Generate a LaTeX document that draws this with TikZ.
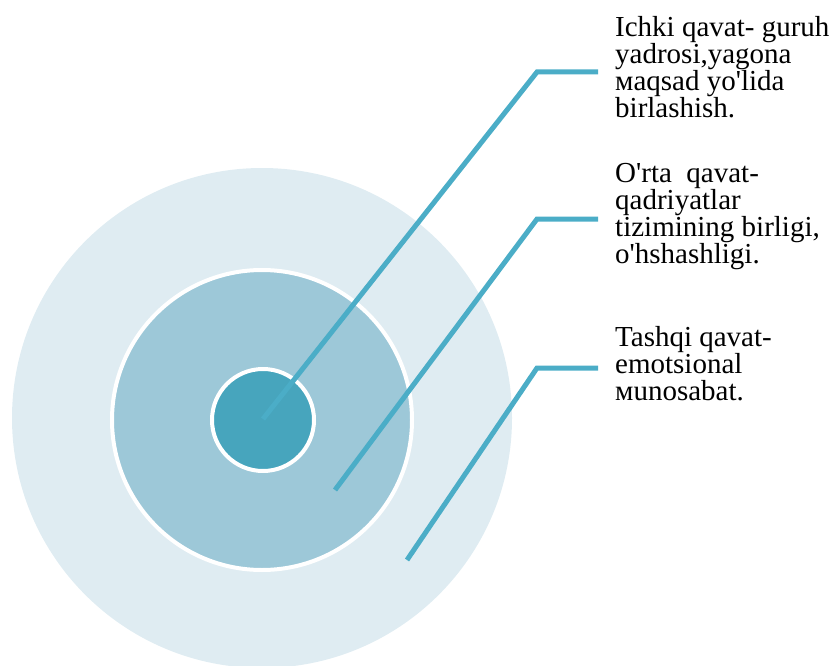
\documentclass[tikz,border=0pt]{standalone}
\usepackage{fontspec}
\setmainfont{Liberation Serif}[Ligatures=TeXOff]
\definecolor{outerc}{HTML}{DFECF2}
\definecolor{midc}{HTML}{9DC8D8}
\definecolor{innerc}{HTML}{47A5BD}
\definecolor{linec}{HTML}{4BADC7}
\tikzset{
  ring/.style={circle, inner sep=0pt, draw=white, line width=4pt},
  leader/.style={draw=linec, line width=5pt, line join=miter},
  label/.style={anchor=north west, inner sep=0pt, align=left,
    font=\fontsize{29}{27}\selectfont, text=black}
}
\begin{document}
\begin{tikzpicture}[x=1pt,y=-1pt]
\useasboundingbox (0,0) rectangle (835,666);
\node[circle, inner sep=0pt, fill=outerc, minimum size=500pt] (outer) at (262,418) {};
\node[ring, fill=midc, minimum size=300pt] (mid) at (262,420) {};
\node[ring, fill=innerc, minimum size=102pt] (inner) at (263,420) {};
\coordinate (s1) at (263,419);
\coordinate (b1) at (537,72);
\coordinate (e1) at (598,72);
\coordinate (s2) at (335,490);
\coordinate (b2) at (537,219);
\coordinate (e2) at (598,219);
\coordinate (s3) at (407,560);
\coordinate (b3) at (537,368);
\coordinate (e3) at (598,368);
\draw[leader] (s1) -- (b1) -- (e1);
\draw[leader] (s2) -- (b2) -- (e2);
\draw[leader] (s3) -- (b3) -- (e3);
\node[label] (t1) at (615,16.1) {Ichki qavat- guruh\\yadrosi,yagona\\мaqsad yo'lida\\birlashish.};
\node[label] (t2) at (615,163) {O'rta\ \ qavat-\\qadriyatlar\\tizimining birligi,\\o'hshashligi.};
\node[label] (t3) at (615,326) {Tashqi qavat-\\emotsional\\мunosabat.};
\end{tikzpicture}
\end{document}
